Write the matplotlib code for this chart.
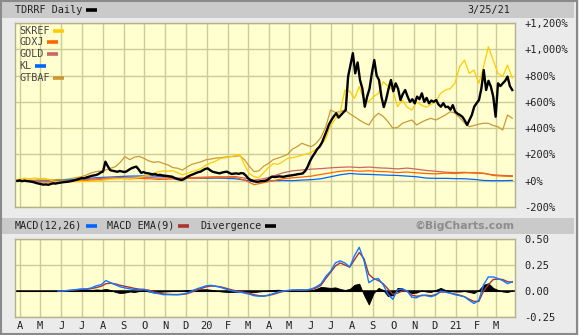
import matplotlib
matplotlib.use('Agg')
import matplotlib.pyplot as plt
import matplotlib.dates as mdates
import pandas as pd
import numpy as np
from matplotlib.lines import Line2D
from matplotlib.patches import Rectangle

# --- data (percent change since 3/25/19) ---
start, end = '2019-03-25', '2021-03-25'

# TDRRF, twice a week
tdrrf = [0, -2, 3, -4, 1, -3, -5, -8, -12, -18, -22, -26,
         -30, -28, -31, -25, -20, -22, -18, -15, -12, -10, -8, -5,
         -2, 3, 8, 14, 20, 18, 25, 30, 36, 40, 43, 50,
         62, 70, 145, 110, 80, 76, 72, 68, 74, 70, 66, 72,
         85, 95, 102, 107, 85, 60, 66, 58, 56, 52, 48, 50,
         43, 45, 40, 38, 36, 33, 31, 22, 15, 10, 5, 12,
         25, 35, 43, 50, 58, 65, 69, 80, 90, 94, 80, 69,
         64, 60, 56, 62, 66, 69, 60, 51, 54, 56, 52, 58,
         56, 40, 18, 5, -2, -6, -8, -5, -3, -1, 5, 18,
         31, 28, 30, 33, 31, 30, 35, 38, 40, 43, 46, 50,
         52, 56, 75, 107, 150, 183, 210, 240, 259, 290, 335, 380,
         430, 462, 490, 513, 480, 500, 520, 538, 792, 880, 970, 817,
         900, 766, 700, 563, 640, 700, 820, 918, 800, 766, 640, 560,
         620, 700, 766, 680, 741, 700, 614, 660, 690, 640, 600, 620,
         589, 640, 620, 665, 600, 630, 589, 610, 600, 614, 580, 563,
         590, 560, 563, 540, 575, 525, 510, 500, 487, 460, 424, 462,
         500, 563, 590, 614, 700, 842, 690, 760, 716, 640, 487, 741,
         720, 741, 760, 792, 720, 690]

# weekly
skref = [5, 12, 18, 15, 20, 16, 18, 10, -2, -5, -3, -6, -5, -8, -4, -6, -3, -5,
         2, 6, 12, 15, 14, 18, 15, 20, 25, 35, 42, 60, 68, 75, 72, 76, 60, 45,
         55, 70, 80, 95, 120, 135, 150, 170, 175, 183, 190, 200, 120, 56, 30, 25,
         60, 100, 130, 125, 145, 170, 175, 183, 195, 205, 215, 240, 270, 320, 420,
         470, 520, 690, 680, 627, 716, 614, 600, 640, 665, 753, 720, 690, 563, 614,
         560, 538, 600, 575, 560, 580, 600, 665, 690, 700, 741, 868, 918, 817, 842,
         741, 868, 1020, 918, 817, 792, 880, 780]

gtbaf = [0, 3, 2, 5, 4, 6, 5, 8, 6, 10, 8, 12, 18, 25, 31, 45, 60, 69, 75, 82,
         95, 107, 140, 183, 160, 180, 185, 170, 150, 140, 145, 132, 120, 100, 95,
         81, 105, 125, 135, 145, 160, 165, 172, 175, 180, 183, 185, 190, 160, 110,
         69, 75, 110, 132, 160, 172, 185, 200, 240, 259, 285, 270, 259, 285, 330,
         411, 538, 520, 525, 538, 510, 487, 462, 440, 424, 480, 513, 490, 450, 400,
         405, 437, 450, 462, 424, 445, 462, 475, 462, 480, 500, 525, 515, 480, 440,
         411, 420, 430, 437, 437, 420, 411, 386, 500, 475]

# every two weeks
gold = [0, -3, -5, -8, -6, -5, 0, 5, 12, 18, 22, 25, 22, 28, 25, 20, 22, 20, 22,
        25, 28, 30, 30, 32, 20, 5, 15, 35, 60, 75, 82, 88, 92, 98, 102, 105, 100,
        104, 98, 95, 90, 96, 88, 78, 72, 65, 62, 64, 58, 55, 45, 40, 38]
gdxj = [0, -2, -5, -8, -10, -8, -5, 0, 5, 10, 15, 18, 14, 18, 15, 10, 12, 15, 18,
        20, 22, 24, 24, 26, 5, -30, -15, 0, 15, 22, 28, 35, 48, 60, 72, 78, 72,
        76, 70, 68, 62, 66, 60, 55, 52, 58, 55, 60, 62, 58, 40, 35, 32]
kl = [0, -5, -3, -2, 0, 3, 8, 15, 20, 25, 28, 32, 35, 36, 38, 34, 30, 8, 18, 20,
      18, 20, 18, 15, 5, -8, -5, 0, 2, 0, 5, 8, 15, 30, 45, 55, 50, 48, 45, 42,
      40, 35, 30, 20, 18, 18, 16, 15, 10, 2, 0, 0, 2]

# MACD panel, weekly (first weeks have no value yet)
nan = float('nan')
macd = [nan] * 9 + [
    0.0, 0.0, 0.005, 0.01, 0.015, 0.02, 0.02, 0.03, 0.05, 0.06, 0.10, 0.08,
    0.06, 0.04, 0.03, 0.02, 0.015, 0.01, 0.015, 0.0, -0.02, -0.025, -0.035,
    -0.035, -0.035, -0.035, -0.03, -0.02, 0.0, 0.02, 0.035, 0.05, 0.055, 0.045,
    0.035, 0.02, 0.005, -0.005, -0.01, -0.02, -0.03, -0.045, -0.05, -0.05,
    -0.04, -0.025, -0.01, 0.0, 0.005, 0.01, 0.01, 0.01, 0.01, 0.02, 0.04, 0.07,
    0.14, 0.19, 0.27, 0.29, 0.27, 0.23, 0.34, 0.42, 0.29, 0.08, 0.11, 0.12,
    0.06, -0.03, -0.08, 0.01, 0.02, 0.0, -0.06, -0.065, -0.04, -0.045, -0.055,
    -0.04, 0.0, -0.01, -0.02, -0.035, -0.045, -0.055, -0.09, -0.12, -0.09,
    0.06, 0.135, 0.135, 0.12, 0.10, 0.07, 0.09]
macd_ema = [nan] * 9 + [
    0.0, 0.0, 0.003, 0.007, 0.012, 0.016, 0.018, 0.023, 0.033, 0.045, 0.07,
    0.075, 0.068, 0.055, 0.045, 0.035, 0.025, 0.018, 0.015, 0.008, -0.008,
    -0.018, -0.028, -0.032, -0.034, -0.035, -0.033, -0.026, -0.01, 0.008,
    0.025, 0.04, 0.048, 0.046, 0.04, 0.028, 0.015, 0.003, -0.005, -0.013,
    -0.022, -0.035, -0.045, -0.048, -0.043, -0.032, -0.018, -0.005, 0.002,
    0.007, 0.009, 0.01, 0.01, 0.015, 0.03, 0.055, 0.12, 0.18, 0.24, 0.27, 0.25,
    0.23, 0.30, 0.37, 0.31, 0.16, 0.12, 0.10, 0.07, 0.02, -0.03, -0.02, 0.0,
    0.0, -0.04, -0.05, -0.045, -0.04, -0.045, -0.035, -0.01, -0.01, -0.02,
    -0.03, -0.04, -0.055, -0.08, -0.1, -0.1, 0.0, 0.06, 0.11, 0.115, 0.11,
    0.09, 0.085]
divergence = [0.0] * 9 + [
    0.0, 0.0, 0.005, 0.01, 0.012, 0.015, 0.015, 0.01, 0.015, 0.012, 0.02, 0.01,
    -0.01, -0.02, -0.015, -0.005, -0.01, 0.0, 0.005, -0.005, -0.01, -0.008,
    -0.005, -0.003, 0.0, 0.0, 0.003, 0.008, 0.012, 0.015, 0.016, 0.017, 0.012,
    0.004, -0.004, -0.008, -0.01, -0.008, -0.005, -0.006, -0.008, -0.01,
    -0.005, 0.0, 0.006, 0.01, 0.012, 0.01, 0.006, 0.004, 0.002, 0.0, 0.0,
    0.008, 0.02, 0.04, 0.035, 0.03, 0.035, 0.02, 0.01, 0.02, 0.06, 0.07, -0.04,
    -0.13, -0.02, 0.03, 0.01, -0.05, -0.04, 0.03, 0.025, 0.0, -0.02, -0.015,
    0.005, -0.005, -0.01, 0.01, 0.03, 0.01, 0.0, -0.005, -0.005, 0.0, -0.01,
    -0.02, 0.01, 0.06, 0.075, 0.03, 0.01, -0.005, -0.01, 0.005]

main_series = [
    ('GTBAF', gtbaf, '#CC9933', 0.9),
    ('KL', kl, '#0066FF', 0.9),
    ('GOLD', gold, '#CC6666', 0.9),
    ('GDXJ', gdxj, '#FF6600', 0.9),
    ('SKREF', skref, '#FFCC00', 0.9),
    ('TDRRF', tdrrf, '#000000', 1.7),
]
legend_order = [('SKREF', '#FFCC00', 53), ('GDXJ', '#FF6600', 47), ('GOLD', '#CC6666', 47),
                ('KL', '#0066FF', 35), ('GTBAF', '#CC9933', 53)]

W, H = 579, 335
def fx(x):
    return x / W
def fy(y):
    return 1 - y / H

mono = 'DejaVu Sans Mono'
bg = '#FFFFD0'
grid_c = '#CDCB96'
txt_c = '#222222'

fig = plt.figure(figsize=(W / 100, H / 100), dpi=100, facecolor='#EBEBEB')

# header bars
for y0, y1 in [(2, 18), (218, 234)]:
    fig.patches.append(Rectangle((fx(2), fy(y1)), fx(574) - fx(2), (y1 - y0) / H,
                                 transform=fig.transFigure, facecolor='#CACACA',
                                 edgecolor='none', zorder=0))
fig.patches.append(Rectangle((0.002, 0.002), 0.994, 0.994, transform=fig.transFigure,
                             facecolor='none', edgecolor='#8A8A8A', lw=1.5, zorder=0))

def swatch(x0, y, color):
    fig.add_artist(Line2D([fx(x0), fx(x0 + 11)], [fy(y), fy(y)], color=color,
                          lw=2.6, solid_capstyle='butt'))

fig.text(fx(15), fy(10), 'TDRRF Daily', fontsize=7.3, family=mono, color=txt_c, va='center')
swatch(86, 10, 'black')
fig.text(fx(510), fy(10), '3/25/21', fontsize=7.3, family=mono, color=txt_c,
         va='center', ha='right')

fig.text(fx(15), fy(226), 'MACD(12,26)', fontsize=7.3, family=mono, color=txt_c, va='center')
swatch(86, 226, '#0066FF')
fig.text(fx(107), fy(226), 'MACD EMA(9)', fontsize=7.3, family=mono, color=txt_c, va='center')
swatch(178, 226, '#AA3333')
fig.text(fx(200), fy(226), 'Divergence', fontsize=7.3, family=mono, color=txt_c, va='center')
swatch(265, 226, 'black')
fig.text(fx(514), fy(226), '\u00a9BigCharts.com', fontsize=7.8, family='DejaVu Sans',
         weight='bold', color='#8C8C8C', va='center', ha='right')

months = pd.date_range('2019-04-01', '2021-03-01', freq='MS')
month_labels = [str(d.year)[2:] if d.month == 1 else d.strftime('%b')[0] for d in months]
xlim = (pd.Timestamp('2019-03-25'), pd.Timestamp('2021-03-29'))

def style(ax):
    ax.set_facecolor(bg)
    ax.set_xlim(*xlim)
    ax.set_xticks(months)
    ax.grid(True, color=grid_c, lw=1.0)
    ax.set_axisbelow(True)
    ax.yaxis.tick_right()
    ax.tick_params(length=0, labelsize=7.5, labelcolor=txt_c, pad=6.5)
    for s in ax.spines.values():
        s.set_color('#B4B28C')
        s.set_linewidth(1.0)

# main panel
ax = fig.add_axes([fx(15), fy(207), 500 / W, 184 / H])
for name, vals, color, lw in main_series:
    dates = pd.date_range(start, end, periods=len(vals))
    ax.plot(dates, vals, color=color, lw=lw)
ax.set_ylim(-200, 1200)
yt = list(range(-200, 1201, 200))
ax.set_yticks(yt)
ax.set_yticklabels([('+' if v >= 0 else '-') + f'{abs(v):,}%' for v in yt])
ax.set_xticklabels([])
style(ax)
for lab in ax.get_yticklabels():
    lab.set_family(mono)

for k, (name, color, sx) in enumerate(legend_order):
    y = 30.5 + 11.8 * k
    fig.text(fx(19), fy(y), name, fontsize=7.3, family=mono, color='#444444', va='center')
    swatch(sx, y, color)

# MACD panel
ax2 = fig.add_axes([fx(15), fy(317), 500 / W, 78 / H])
wdates = pd.date_range(start, end, periods=len(macd))
ax2.fill_between(wdates, 0, divergence, color='black', lw=0.6)
ax2.axhline(0, color='black', lw=1.1)
ax2.plot(wdates, macd_ema, color='#AA3333', lw=1.0)
ax2.plot(wdates, macd, color='#1177FF', lw=1.0)
ax2.set_ylim(-0.25, 0.5)
ax2.set_yticks([-0.25, 0, 0.25, 0.5])
ax2.set_yticklabels(['-0.25', '0.00', '0.25', '0.50'])
ax2.set_xticklabels(month_labels)
style(ax2)
ax2.tick_params(axis='x', pad=3)
for lab in ax2.get_xticklabels() + ax2.get_yticklabels():
    lab.set_family(mono)

fig.savefig('out.png', dpi=100, facecolor=fig.get_facecolor())
